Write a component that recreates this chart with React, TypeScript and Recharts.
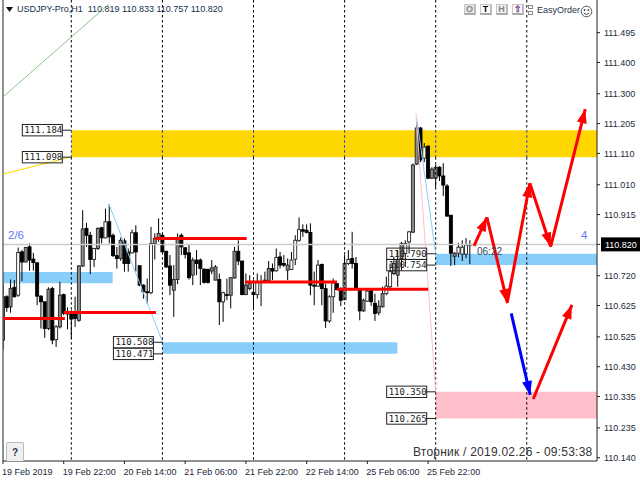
import { Bar, ComposedChart, Line, ReferenceArea, ReferenceDot, ReferenceLine, XAxis, YAxis } from 'recharts'

// bar index is the x unit, 16 bars between the time labels
const opens = [110.515,110.653,110.621,110.683,110.658,110.796,110.764,110.812,110.773,110.761,110.655,110.637,110.552,110.679,110.517,110.557,110.660,110.605,110.600,110.600,110.578,110.751,110.871,110.849,110.772,110.807,110.873,110.841,110.892,110.849,110.784,110.775,110.831,110.796,110.793,110.857,110.752,110.690,110.669,110.666,110.823,110.842,110.849,110.798,110.751,110.674,110.708,110.849,110.809,110.793,110.722,110.770,110.770,110.741,110.740,110.735,110.706,110.708,110.637,110.660,110.658,110.713,110.798,110.767,110.660,110.679,110.667,110.660,110.701,110.703,110.703,110.743,110.736,110.780,110.759,110.738,110.740,110.773,110.833,110.867,110.865,110.858,110.690,110.687,110.756,110.679,110.576,110.653,110.695,110.674,110.644,110.759,110.775,110.759,110.676,110.608,110.639,110.672,110.632,110.602,110.621,110.663,110.685,110.727,110.722,110.775,110.791,110.828,110.859,111.076,111.191,111.095,111.133,111.031,111.031,111.066,111.038,111.006,110.913,110.782,110.792,110.789,110.789,110.819]
const closes = [110.653,110.619,110.679,110.653,110.794,110.764,110.810,110.770,110.762,110.655,110.637,110.552,110.677,110.515,110.557,110.658,110.600,110.598,110.582,110.584,110.751,110.869,110.849,110.772,110.807,110.871,110.841,110.892,110.844,110.784,110.775,110.833,110.759,110.759,110.857,110.796,110.690,110.669,110.666,110.823,110.839,110.855,110.796,110.748,110.690,110.708,110.842,110.812,110.788,110.714,110.770,110.759,110.743,110.699,110.699,110.745,110.748,110.637,110.666,110.658,110.714,110.798,110.767,110.660,110.690,110.695,110.660,110.701,110.699,110.706,110.743,110.735,110.778,110.754,110.754,110.754,110.770,110.833,110.867,110.862,110.858,110.690,110.687,110.754,110.679,110.576,110.653,110.697,110.676,110.642,110.759,110.772,110.759,110.676,110.608,110.642,110.671,110.637,110.600,110.623,110.663,110.687,110.733,110.759,110.772,110.823,110.823,110.860,111.073,111.191,111.089,111.130,111.031,111.060,111.066,111.038,111.009,110.910,110.792,110.792,110.811,110.811,110.818,110.820]
const highs = [110.695,110.658,110.708,110.706,110.810,110.802,110.812,110.823,110.793,110.764,110.658,110.637,110.683,110.685,110.563,110.701,110.663,110.619,110.610,110.653,110.754,110.929,110.889,110.860,110.809,110.874,110.876,110.934,110.948,110.855,110.812,110.842,110.839,110.807,110.867,110.881,110.754,110.693,110.711,110.876,110.855,110.903,110.855,110.799,110.786,110.754,110.855,110.855,110.812,110.821,110.778,110.802,110.775,110.743,110.743,110.770,110.754,110.727,110.669,110.711,110.714,110.812,110.833,110.767,110.727,110.722,110.706,110.727,110.722,110.733,110.767,110.759,110.807,110.796,110.786,110.775,110.796,110.849,110.906,110.884,110.884,110.887,110.733,110.770,110.759,110.695,110.658,110.711,110.697,110.683,110.786,110.802,110.860,110.780,110.679,110.647,110.679,110.674,110.663,110.642,110.685,110.717,110.759,110.780,110.802,110.828,110.833,110.863,111.078,111.210,111.194,111.143,111.136,111.066,111.073,111.069,111.079,111.012,110.913,110.795,110.824,110.833,110.840,110.833]
const lows = [110.483,110.605,110.602,110.651,110.653,110.703,110.762,110.736,110.736,110.626,110.552,110.522,110.547,110.502,110.493,110.552,110.594,110.549,110.520,110.557,110.573,110.748,110.812,110.725,110.748,110.802,110.823,110.839,110.823,110.780,110.743,110.768,110.733,110.733,110.791,110.733,110.687,110.647,110.632,110.661,110.772,110.828,110.796,110.745,110.658,110.589,110.693,110.786,110.775,110.708,110.690,110.722,110.690,110.695,110.695,110.725,110.706,110.563,110.573,110.642,110.616,110.711,110.754,110.658,110.658,110.674,110.610,110.647,110.623,110.701,110.701,110.706,110.733,110.743,110.748,110.706,110.738,110.754,110.828,110.844,110.855,110.658,110.626,110.685,110.626,110.554,110.570,110.602,110.674,110.623,110.642,110.754,110.743,110.674,110.578,110.605,110.637,110.624,110.576,110.594,110.619,110.658,110.679,110.722,110.685,110.738,110.748,110.791,110.856,111.073,111.082,111.082,111.028,111.028,111.002,111.022,110.974,110.910,110.751,110.754,110.779,110.767,110.776,110.757]

const priceTicks = [111.495, 111.4, 111.3, 111.205, 111.11, 111.01, 110.915, 110.82, 110.72, 110.625, 110.525, 110.43, 110.335, 110.235, 110.14]
const priceDomain = [110.1295, 111.599]
const timeTicks = [0, 16, 32, 48, 64, 80, 96, 112]
const timeLabels = ['19 Feb 2019', '19 Feb 22:00', '20 Feb 14:00', '21 Feb 06:00', '21 Feb 22:00', '22 Feb 14:00', '25 Feb 06:00', '25 Feb 22:00']
const daySeparators = [18, 42, 66, 90, 114, 138]

const lastBar = 156.5
const currentPrice = 110.82

// zones: from bar, to bar, upper price, lower price
const goldZone = [18, lastBar, 111.184, 111.098]
const blueZones = [
  [0, 28.9, 110.732, 110.696],
  [42, 103.9, 110.508, 110.471],
  [114, lastBar, 110.79, 110.754],
]
const pinkZone = [114, lastBar, 110.35, 110.265]

// pivot segments: from bar, to bar, price
const redLevels = [
  [0, 16.3, 110.584],
  [16, 40.3, 110.603],
  [39.9, 64.2, 110.839],
  [63.8, 88, 110.7],
  [88, 112, 110.677],
]

// thin trend lines: from bar, price, to bar, price, colour
const trendLines: [number, number, number, number, string][] = [
  [0, 111.29, 27.9, 111.586, '#8fc48a'],
  [0, 111.044, 18, 111.099, '#ffd700'],
  [27.9, 110.949, 42, 110.51, '#87cefa'],
  [109, 111.223, 114, 110.79, '#87cefa'],
  [108.8, 111.239, 114, 110.349, '#ffc0cb'],
]

// arrows: from bar, price, to bar, price, colour
const arrows: [number, number, number, number, string][] = [
  [124.1, 110.815, 127.5, 110.906, '#ff0000'],
  [127.5, 110.906, 132.9, 110.633, '#ff0000'],
  [132.9, 110.637, 138.8, 111.015, '#ff0000'],
  [138.8, 111.015, 144.3, 110.813, '#ff0000'],
  [144.3, 110.813, 153.4, 111.251, '#ff0000'],
  [133.9, 110.6, 138.9, 110.34, '#0000ff'],
  [139.7, 110.327, 149.9, 110.627, '#ff0000'],
]

// boxed price tags: bar the connector ends on, price
const tagBars = [18, 18, 42, 42, 114, 114, 114, 114]
const tagPrices = [111.184, 111.098, 110.508, 110.471, 110.79, 110.754, 110.35, 110.265]

const candles = opens.map((open, i) => ({
  i,
  open,
  close: closes[i],
  high: highs[i],
  low: lows[i],
  range: [lows[i], highs[i]],
}))

function Candle(props: any) {
  const { x, y, width, height, payload } = props
  const { open, close, high, low } = payload
  const cx = x + width / 2
  const k = Math.abs(height) / (high - low)
  const top = y + (high - Math.max(open, close)) * k
  const h = Math.max(Math.abs(open - close) * k, 0.8)
  const up = close >= open
  // the source was scaled down, up bodies go white or grey depending on where they land
  const upFill = cx - Math.floor(cx) < 0.5 ? '#fff' : '#8c8c8c'
  return (
    <g>
      <line x1={cx} x2={cx} y1={y} y2={y + Math.abs(height)} stroke="#000" strokeWidth={1} />
      <rect x={cx - 1.5} y={top} width={3} height={h} fill={up ? upFill : '#000'} stroke={up ? '#222' : '#000'} strokeWidth={0.9} />
    </g>
  )
}

function PriceTick(props: any) {
  const { x, y, payload } = props
  const label = payload.value.toFixed(3)
  if (payload.value === currentPrice) {
    return (
      <g>
        <rect x={x - 1} y={y - 7} width={39} height={14} fill="#000" />
        <text x={x + 3} y={y + 3.5} fontSize={9} fill="#fff" fontFamily="Liberation Sans">{label}</text>
      </g>
    )
  }
  return <text x={x + 2} y={y + 3.5} fontSize={9} fill="#1c2a3a" fontFamily="Liberation Sans">{label}</text>
}

function TimeTick(props: any) {
  const { x, y, payload } = props
  return (
    <text x={x - 1} y={y + 9} fontSize={9} fill="#1c2a3a" fontFamily="Liberation Sans">
      {timeLabels[timeTicks.indexOf(payload.value)]}
    </text>
  )
}

function PriceTag(props: any) {
  const { cx, cy, value } = props
  return (
    <g>
      <line x1={cx - 9.5} x2={cx} y1={cy} y2={cy} stroke="#222" />
      <rect x={cx - 49} y={cy - 5.7} width={40} height={11.4} fill="none" stroke="#222" strokeWidth={1} />
      <text x={cx - 47} y={cy + 3.2} fontSize={9} fill="#1a1a1a" fontFamily="DejaVu Sans Mono">{value}</text>
    </g>
  )
}

function ArrowHead(props: any) {
  const { cx, cy, index, points, stroke } = props
  if (index !== 1 || !points) return <g key={index} />
  const a = Math.atan2(cy - points[0].y, cx - points[0].x) * (180 / Math.PI)
  return <path key={index} d="M0 0 L-14 -5 L-14 5 Z" fill={stroke} transform={`translate(${cx} ${cy}) rotate(${a})`} />
}

function Overlay({ left, top, style, children }: any) {
  return (
    <div style={{ position: 'absolute', left, top, whiteSpace: 'nowrap', fontFamily: 'Liberation Sans', lineHeight: 1, ...style }}>
      {children}
    </div>
  )
}

function ToolButton({ left, color, bg, children }: any) {
  return (
    <div
      style={{
        position: 'absolute', left, top: 4, width: 9, height: 8, background: bg, color,
        border: '1px solid #c8c8c8', borderBottom: '2px solid #aaa', borderRight: '2px solid #bbb',
        fontFamily: 'Liberation Sans', fontSize: 9, fontWeight: 700, textAlign: 'center', lineHeight: '9px',
      }}
    >
      {children}
    </div>
  )
}

export default function App() {
  return (
    <div style={{ position: 'absolute', left: 0, top: 0, width: 640, height: 480, background: '#fff', overflow: 'hidden' }}>
      <ComposedChart width={640} height={480} data={candles} margin={{ top: 0, right: 0, bottom: 0, left: 3 }}>
        <XAxis
          dataKey="i"
          type="number"
          domain={[0, lastBar]}
          ticks={timeTicks}
          height={19}
          stroke="#222"
          tickSize={3}
          tick={TimeTick}
          interval={0}
          allowDataOverflow
        />
        <YAxis
          type="number"
          orientation="right"
          domain={priceDomain}
          ticks={priceTicks}
          width={43}
          stroke="#222"
          tickSize={3}
          tick={PriceTick}
          interval={0}
          allowDataOverflow
        />
        <ReferenceLine y={currentPrice} stroke="#cccccc" strokeWidth={1.5} />
        <ReferenceArea x1={goldZone[0]} x2={goldZone[1]} y1={goldZone[2]} y2={goldZone[3]} fill="#ffd700" fillOpacity={1} stroke="none" />
        <ReferenceArea x1={pinkZone[0]} x2={pinkZone[1]} y1={pinkZone[2]} y2={pinkZone[3]} fill="#ffc0cb" fillOpacity={1} stroke="none" />
        {blueZones.map((z) => (
          <ReferenceArea key={z[0]} x1={z[0]} x2={z[1]} y1={z[2]} y2={z[3]} fill="#87cefa" fillOpacity={1} stroke="none" />
        ))}
        {daySeparators.map((d) => (
          <ReferenceLine
            key={d}
            segment={[{ x: d, y: priceDomain[1] }, { x: d, y: goldZone[2] }]}
            stroke="#000"
            strokeDasharray="2.5 2.5"
          />
        ))}
        {daySeparators.map((d) => (
          <ReferenceLine
            key={d}
            segment={[{ x: d, y: goldZone[2] }, { x: d, y: goldZone[3] }]}
            stroke="#1038e0"
            strokeDasharray="2.5 2.5"
          />
        ))}
        {daySeparators.map((d) => (
          <ReferenceLine
            key={d}
            segment={[{ x: d, y: goldZone[3] }, { x: d, y: priceDomain[0] }]}
            stroke="#000"
            strokeDasharray="2.5 2.5"
          />
        ))}
        <ReferenceLine x={0} stroke="#222" />
        {trendLines.map((t) => (
          <ReferenceLine key={t[1]} segment={[{ x: t[0], y: t[1] }, { x: t[2], y: t[3] }]} stroke={t[4]} strokeWidth={1} />
        ))}
        <Bar dataKey="range" barSize={3} shape={Candle} isAnimationActive={false} />
        {redLevels.map((r) => (
          <ReferenceLine key={r[2]} segment={[{ x: r[0], y: r[2] }, { x: r[1], y: r[2] }]} stroke="#ff0000" strokeWidth={3} />
        ))}
        {tagPrices.map((p, n) => (
          <ReferenceDot key={p} x={tagBars[n]} y={p} r={1} shape={(s: any) => <PriceTag {...s} value={p.toFixed(3)} />} />
        ))}
        {arrows.map((a) => (
          <Line
            key={a[0]}
            data={[{ i: a[0], p: a[1] }, { i: a[2], p: a[3] }]}
            dataKey="p"
            stroke={a[4]}
            strokeWidth={3}
            dot={ArrowHead}
            activeDot={false}
            legendType="none"
            isAnimationActive={false}
          />
        ))}
      </ComposedChart>

      <svg style={{ position: 'absolute', left: 6, top: 7 }} width={7} height={5}>
        <path d="M0 0 L7 0 L3.5 5 Z" fill="#111" />
      </svg>
      <Overlay left={17} top={5} style={{ fontSize: 9, color: '#14304a' }}>USDJPY-Pro,H1&nbsp;&nbsp;110.819 110.833 110.757 110.820</Overlay>
      <Overlay left={8} top={230} style={{ fontSize: 11.5, color: '#5b78f0' }}>2/6</Overlay>
      <Overlay left={581} top={230} style={{ fontSize: 11.5, color: '#5b78f0' }}>4</Overlay>
      <Overlay left={477} top={247} style={{ fontSize: 10, color: '#33475a' }}>06:22</Overlay>
      <Overlay left={413} top={446} style={{ fontSize: 12, color: '#333', letterSpacing: 0.23 }}>Вторник / 2019.02.26 - 09:53:38</Overlay>

      <ToolButton left={464} color="#888" bg="#e4e4e4">O</ToolButton>
      <ToolButton left={480} color="#000" bg="#fff">T</ToolButton>
      <ToolButton left={496} color="#888" bg="#f2f2f2">H</ToolButton>
      <ToolButton left={512} color="#7a2a90" bg="#fff">⇧</ToolButton>
      <div style={{ position: 'absolute', left: 528, top: 5, width: 3, height: 2, border: '1px solid #888' }} />
      <div style={{ position: 'absolute', left: 528, top: 11, width: 3, height: 2, border: '1px solid #888' }} />
      <Overlay left={537} top={6} style={{ fontSize: 9, color: '#26384a' }}>EasyOrder</Overlay>
      <svg style={{ position: 'absolute', left: 580, top: 5 }} width={13} height={13}>
        <circle cx={6.5} cy={6.5} r={5.3} fill="none" stroke="#555" />
        <circle cx={4.6} cy={5} r={0.9} fill="#444" />
        <circle cx={8.4} cy={5} r={0.9} fill="#444" />
        <path d="M3.8 8.2 Q6.5 10.6 9.2 8.2" fill="none" stroke="#444" />
      </svg>

      <div
        style={{
          position: 'absolute', left: 6, top: 442, width: 16, height: 18, background: '#f0f0f0',
          border: '1px solid #bbb', borderBottom: 'none', borderRadius: '2px 2px 0 0', textAlign: 'center',
          fontFamily: 'Liberation Sans', fontSize: 10, fontWeight: 700, lineHeight: '19px', color: '#334',
        }}
      >
        ?
      </div>
    </div>
  )
}
